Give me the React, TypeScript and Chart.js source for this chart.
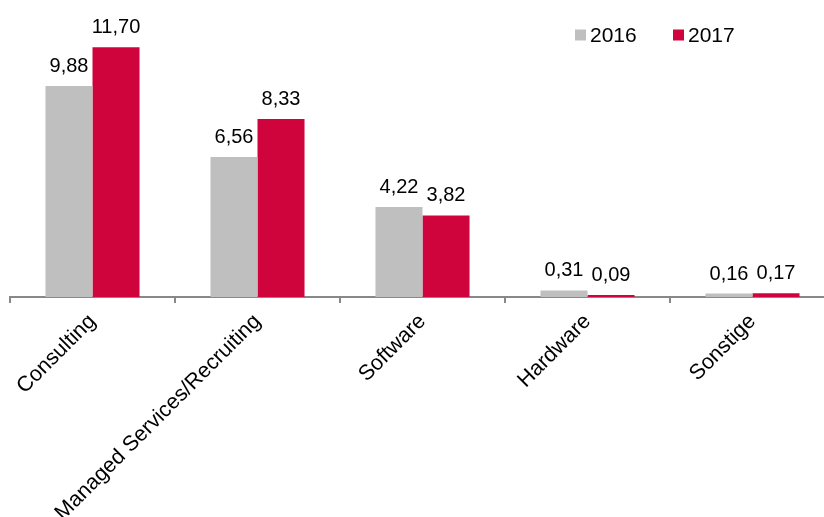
import React, { useEffect, useRef } from "react";
import { Chart, registerables } from "chart.js";

Chart.register(...registerables);

const categories = ["Consulting", "Managed Services/Recruiting", "Software", "Hardware", "Sonstige"];
const values2016 = [9.88, 6.56, 4.22, 0.31, 0.16];
const values2017 = [11.7, 8.33, 3.82, 0.09, 0.17];
const seriesLabels = ["2016", "2017"];
const seriesColors = ["#BFBFBF", "#D0043C"];

const FONT = "'Liberation Sans', Arial, Helvetica, sans-serif";

const valueLabelPlugin = {
  id: "valueLabels",
  afterDatasetsDraw(chart: any) {
    const ctx = chart.ctx;
    ctx.save();
    ctx.font = `20px ${FONT}`;
    ctx.fillStyle = "#000";
    ctx.textAlign = "center";
    ctx.textBaseline = "alphabetic";
    chart.data.datasets.forEach((ds: any, i: number) => {
      const meta = chart.getDatasetMeta(i);
      meta.data.forEach((bar: any, j: number) => {
        const v = ds.data[j] as number;
        const txt = v.toFixed(2).replace(".", ",");
        ctx.fillText(txt, bar.x, bar.y - 14);
      });
    });
    ctx.restore();
  },
};

const legendPlugin = {
  id: "customLegend",
  afterDraw(chart: any) {
    const ctx = chart.ctx;
    ctx.save();
    ctx.font = `21px ${FONT}`;
    ctx.textBaseline = "middle";
    ctx.textAlign = "left";
    let x = 575;
    const y = 35;
    chart.data.datasets.forEach((ds: any) => {
      ctx.fillStyle = ds.backgroundColor;
      ctx.fillRect(x, y - 5.5, 11, 11);
      ctx.fillStyle = "#000";
      ctx.fillText(ds.label, x + 15, y + 1);
      x += 98;
    });
    ctx.restore();
  },
};

export default function App() {
  const ref = useRef<HTMLCanvasElement | null>(null);

  useEffect(() => {
    if (!ref.current) return;
    const chart = new Chart(ref.current, {
      type: "bar",
      data: {
        labels: categories,
        datasets: [
          { label: seriesLabels[0], data: values2016, backgroundColor: seriesColors[0] },
          { label: seriesLabels[1], data: values2017, backgroundColor: seriesColors[1] },
        ],
      },
      options: {
        animation: false,
        responsive: true,
        maintainAspectRatio: false,
        layout: { padding: { left: 10, right: 10, top: 10, bottom: 0 } },
        datasets: { bar: { categoryPercentage: 0.57, barPercentage: 1.0 } },
        plugins: {
          legend: { display: false },
          tooltip: { enabled: false },
        },
        scales: {
          x: {
            offset: true,
            grid: {
              offset: true,
              drawOnChartArea: false,
              drawTicks: true,
              tickLength: 6,
              color: "#888888",
              lineWidth: 2,
            },
            border: { display: true, color: "#888888", width: 2 },
            ticks: {
              color: "#000",
              font: { family: FONT, size: 21.5 },
              maxRotation: 45,
              minRotation: 45,
              autoSkip: false,
              padding: 6,
            },
            afterFit(scale: any) {
              scale.height = 220;
              scale.paddingLeft = 0;
              scale.paddingRight = 0;
            },
          },
          y: {
            display: false,
            min: 0,
            max: 13.44,
          },
        },
      },
      plugins: [valueLabelPlugin, legendPlugin],
    });
    return () => chart.destroy();
  }, []);

  return (
    <div style={{ position: "fixed", left: 0, top: 0, width: 824, height: 517, overflow: "hidden", background: "#fff" }}>
      <div style={{ position: "relative", width: 845, height: 517 }}>
        <canvas ref={ref} />
      </div>
    </div>
  );
}
